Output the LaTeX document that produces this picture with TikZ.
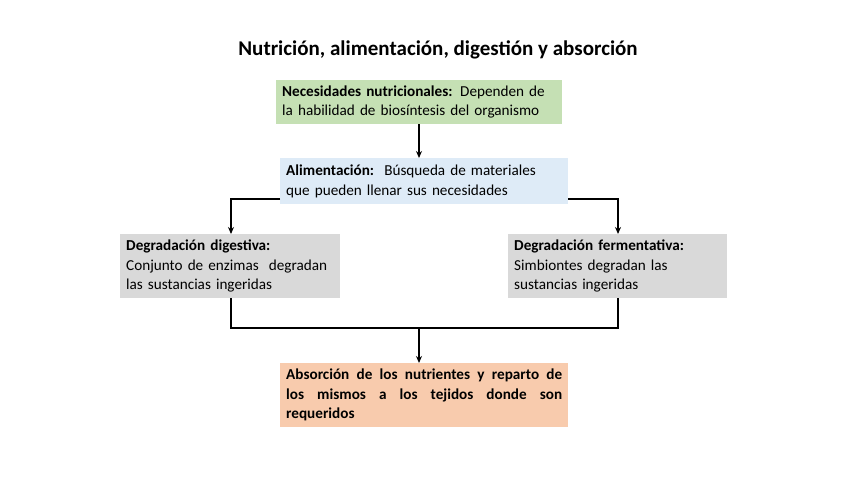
\documentclass[tikz,border=0pt]{standalone}
\usepackage{fontspec}
\setmainfont{Carlito}
\usetikzlibrary{arrows.meta}
\definecolor{cgreen}{HTML}{C5E0B4}
\definecolor{cblue}{HTML}{DEEBF7}
\definecolor{cgray}{HTML}{D9D9D9}
\definecolor{corange}{HTML}{F8CBAD}
\begin{document}
\begin{tikzpicture}[x=1pt,y=-1pt,
  box/.style={rectangle, inner xsep=6pt, inner ysep=3pt, font=\fontsize{15.2}{19.5}\selectfont, anchor=north west},
  conn/.style={line width=1.8pt, -{Stealth[length=7pt,width=6pt]}},
  plain/.style={line width=1.8pt}]
\useasboundingbox (0,0) rectangle (848,477);
\node (title) at (438,50) {\fontsize{21}{24}\selectfont\bfseries Nutrición, alimentación, digestión y absorción};
\node[box, fill=cgreen, minimum width=286pt, minimum height=44pt, text width=274pt, align=left] (need) at (276,80)
  {\textbf{Necesidades nutricionales:} Dependen de\\la habilidad de biosíntesis del organismo};
\node[box, fill=cblue, minimum width=288pt, minimum height=46pt, text width=276pt, align=left] (food) at (280,158)
  {\textbf{Alimentación:}\ \ Búsqueda de materiales\\que pueden llenar sus necesidades};
\node[box, fill=cgray, minimum width=220pt, minimum height=64pt, text width=208pt, align=left] (dig) at (120,234)
  {\textbf{Degradación digestiva:}\\Conjunto de enzimas\ \ degradan\\las sustancias ingeridas};
\node[box, fill=cgray, minimum width=219pt, minimum height=64pt, text width=207pt, align=left] (fer) at (508,234)
  {\textbf{Degradación fermentativa:}\\Simbiontes degradan las\\sustancias ingeridas};
\node[box, fill=corange, minimum width=288pt, minimum height=64pt, text width=276pt, align=justify] (abs) at (280,363)
  {\textbf{Absorción de los nutrientes y reparto de\linebreak los mismos a los tejidos donde son\linebreak requeridos}};
\coordinate (jl) at (231,199);
\coordinate (jr) at (618,199);
\coordinate (bl) at (231,328);
\coordinate (br) at (618,328);
\coordinate (bm) at (419,328);
\draw[conn] (need.south -| 419,0) -- (food.north -| 419,0);
\draw[conn] (food.west |- jl) -- (jl) -- (dig.north -| jl);
\draw[conn] (food.east |- jr) -- (jr) -- (fer.north -| jr);
\draw[plain] (dig.south -| bl) -- (bl) -- (br) -- (fer.south -| br);
\draw[conn] (bm) -- (abs.north -| bm);
\end{tikzpicture}
\end{document}
